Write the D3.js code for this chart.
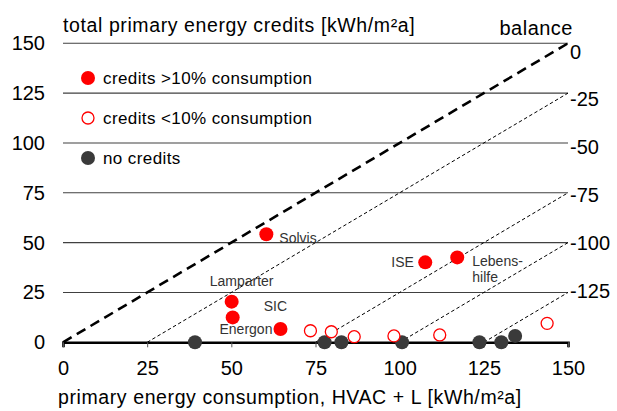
<!DOCTYPE html>
<html>
<head>
<meta charset="utf-8">
<script src="https://cdn.jsdelivr.net/npm/d3@7"></script>
<style>
  body { margin: 0; background: #fff; }
  svg text { font-family: Arial, "Liberation Sans", sans-serif; }
</style>
</head>
<body>
<svg id="chart" width="617" height="411"></svg>
<script>
// Primary energy credits vs consumption, with balance lines

var xTicks = [0, 25, 50, 75, 100, 125, 150];
var yTicks = [0, 25, 50, 75, 100, 125, 150];
var balanceLines = [0, -25, -75, -100, -125];
var balanceTicks = [0, -25, -50, -75, -100, -125];

// credits > 10% of consumption
var highNames = ["Solvis", "Lamparter", "SIC", "Energon", "ISE", "Lebenshilfe"];
var highX = [60.4, 50.1, 50.4, 64.6, 107.6, 117.1];
var highY = [54.2, 20.4, 12.5, 6.7, 40.1, 42.6];

// credits < 10% of consumption
var lowX = [73.5, 79.7, 86.5, 98.3, 111.9, 143.8];
var lowY = [5.8, 5.3, 2.8, 3.2, 3.7, 9.5];

// no credits
var noneX = [39.2, 77.7, 82.7, 100.7, 123.7, 130.2, 134.3];
var noneY = [0, 0, 0, 0, 0, 0, 3.2];

var legendItems = ["credits >10% consumption", "credits <10% consumption", "no credits"];

// label placement relative to the marker (px)
var labelPos = {
	"Solvis": {dx: 13, dy: 9, lines: ["Solvis"]},
	"Lamparter": {dx: -22, dy: -16, lines: ["Lamparter"]},
	"SIC": {dx: 31, dy: -6, lines: ["SIC"]},
	"Energon": {dx: -61, dy: 5, lines: ["Energon"]},
	"ISE": {dx: -34, dy: 5, lines: ["ISE"]},
	"Lebenshilfe": {dx: 15, dy: 9, lines: ["Lebens-", "hilfe"]}
};

var red = "#ff0000";
var dark = "#3a3a3a";

var svg = d3.select("#chart");
var x = d3.scaleLinear().domain([0, 150]).range([63, 568]);
var y = d3.scaleLinear().domain([0, 150]).range([342.3, 43.3]);
var yBal = d3.scaleLinear().domain([-150, 0]).range([339, 51.7]);

// gridlines
svg.append("g")
	.selectAll("line")
	.data(yTicks.filter(d => d > 0))
	.enter().append("line")
	.attr("x1", x(0)).attr("x2", x(150))
	.attr("y1", d => y(d)).attr("y2", d => y(d))
	.attr("stroke", "#404040")
	.attr("stroke-width", 1.1);

// balance lines: credits = consumption + b
svg.append("g")
	.selectAll("line")
	.data(balanceLines)
	.enter().append("line")
	.attr("x1", b => x(-b)).attr("y1", y(0))
	.attr("x2", x(150)).attr("y2", b => y(150 + b))
	.attr("stroke", "#000")
	.attr("stroke-width", b => b == 0 ? 2.6 : 1)
	.attr("stroke-dasharray", b => b == 0 ? "10,6" : "3.5,2.5");

// x axis
var xAxis = svg.append("g")
	.attr("transform", "translate(0," + y(0) + ")")
	.call(d3.axisBottom(x).tickValues(xTicks).tickSize(5).tickPadding(14));
xAxis.select(".domain").attr("stroke", "#000").attr("stroke-width", 2.6);
xAxis.selectAll(".tick line").attr("stroke", "#555").attr("stroke-width", 1);
xAxis.selectAll("text").attr("font-size", 20).attr("fill", "#000")
	.attr("font-family", "Arial, 'Liberation Sans', sans-serif");

// y axis
var yAxis = svg.append("g")
	.attr("transform", "translate(45,0)")
	.call(d3.axisLeft(y).tickValues(yTicks).tickSize(0).tickPadding(0));
yAxis.select(".domain").remove();
yAxis.selectAll("text").attr("font-size", 20).attr("fill", "#000")
	.attr("font-family", "Arial, 'Liberation Sans', sans-serif");

// balance scale on the right
var balAxis = svg.append("g")
	.attr("transform", "translate(570,0)")
	.call(d3.axisRight(yBal).tickValues(balanceTicks).tickSize(0).tickPadding(0)
		.tickFormat(d => d == 0 ? "0" : "-" + Math.abs(d)));
balAxis.select(".domain").remove();
balAxis.selectAll("text").attr("font-size", 20).attr("fill", "#000")
	.attr("font-family", "Arial, 'Liberation Sans', sans-serif");

// titles
svg.append("text")
	.attr("x", 63).attr("y", 32)
	.attr("font-size", 19.5)
	.attr("letter-spacing", 0.6)
	.text("total primary energy credits [kWh/m²a]");
svg.append("text")
	.attr("x", 573).attr("y", 35)
	.attr("text-anchor", "end")
	.attr("font-size", 20)
	.attr("letter-spacing", 0.5)
	.text("balance");
svg.append("text")
	.attr("x", 58).attr("y", 404)
	.attr("font-size", 19.5)
	.attr("letter-spacing", 0.6)
	.text("primary energy consumption, HVAC + L [kWh/m²a]");

// markers
var pts = svg.append("g");
pts.selectAll("circle.none")
	.data(d3.range(noneX.length))
	.enter().append("circle")
	.attr("cx", i => x(noneX[i])).attr("cy", i => y(noneY[i]))
	.attr("r", 7)
	.attr("fill", dark);
pts.selectAll("circle.low")
	.data(d3.range(lowX.length))
	.enter().append("circle")
	.attr("cx", i => x(lowX[i])).attr("cy", i => y(lowY[i]))
	.attr("r", 6)
	.attr("fill", "#fff")
	.attr("stroke", red)
	.attr("stroke-width", 1.3);
pts.selectAll("circle.high")
	.data(d3.range(highX.length))
	.enter().append("circle")
	.attr("cx", i => x(highX[i])).attr("cy", i => y(highY[i]))
	.attr("r", 7)
	.attr("fill", red);

// point labels
var labels = svg.append("g")
	.selectAll("text")
	.data(highNames)
	.enter().append("text")
	.attr("font-size", 14)
	.attr("fill", "#333")
	.attr("transform", (n, i) => "translate(" + (x(highX[i]) + labelPos[n].dx) + "," + (y(highY[i]) + labelPos[n].dy) + ")");
labels.selectAll("tspan")
	.data(n => labelPos[n].lines)
	.enter().append("tspan")
	.attr("x", 0)
	.attr("dy", (t, j) => j == 0 ? 0 : 15.5)
	.text(t => t);

// legend
var legend = svg.append("g")
	.selectAll("g")
	.data(legendItems)
	.enter().append("g")
	.attr("transform", (d, i) => "translate(88," + (78 + i * 40) + ")");
legend.append("circle")
	.attr("r", (d, i) => i == 1 ? 6 : 7)
	.attr("fill", (d, i) => i == 0 ? red : i == 1 ? "#fff" : dark)
	.attr("stroke", (d, i) => i == 1 ? red : "none")
	.attr("stroke-width", 1.3);
legend.append("text")
	.attr("x", 15).attr("y", 6)
	.attr("font-size", 17)
	.attr("letter-spacing", 0.4)
	.text(d => d);
</script>
</body>
</html>
